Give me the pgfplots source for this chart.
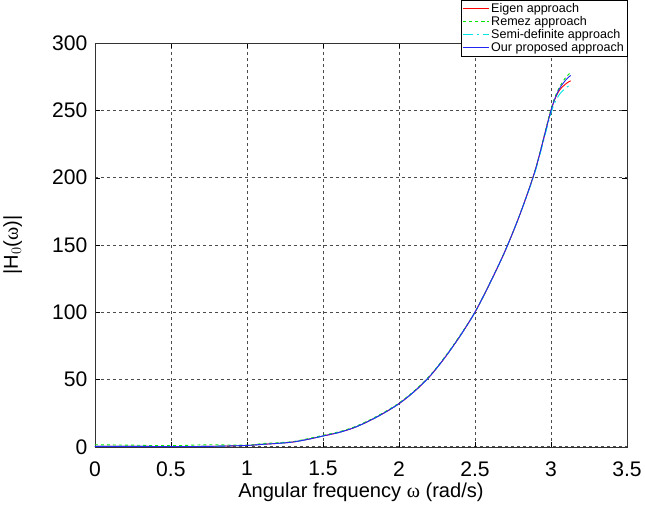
\documentclass[border=0pt]{standalone}
\usepackage{fontspec}
\setmainfont{Liberation Sans}
\newfontfamily\symb{Liberation Serif}
\usepackage{pgfplots}
\pgfplotsset{compat=1.18}
\definecolor{mgreen}{rgb}{0,0.9,0}
\definecolor{mcyan}{rgb}{0,0.9,0.9}
\definecolor{mblue}{rgb}{0.15,0.15,0.95}

\pgfplotstableread{
x     eig   rem   sdp   our
0.00  0.3   1.5   0.3   0.3
0.25  0.3   1.2   0.3   0.3
0.50  0.2   0.8   0.2   0.2
0.75  0.3   1.5   0.3   0.3
1.00  1.0   1.2   1.0   1.0
1.10  1.8   2.4   1.8   1.8
1.20  2.5   3.0   2.5   2.5
1.30  3.5   3.8   3.5   3.5
1.40  5.5   6.0   5.5   5.5
1.50  8.0   8.5   8.0   8.0
1.60  10.5  11.0  10.5  10.5
1.70  14.0  14.5  14.0  14.0
1.80  19.0  19.5  19.0  19.0
1.90  25.0  25.5  25.0  25.0
2.00  32.0  32.5  32.0  32.0
2.10  41.0  41.5  41.0  41.0
2.20  52.0  52.5  52.0  52.0
2.30  66.0  66.5  66.0  66.0
2.40  82.0  82.5  82.0  82.0
2.50  100   100   100   100
2.60  122   122   122   122
2.70  146   146   146   146
2.80  174   174   174   174
2.90  207   207   206   207
3.00  250   251   248   250
3.05  264   266   261   265
3.10  270   275   267   273
3.13  272   278   269   276
}\data

\begin{document}
\begin{tikzpicture}
\begin{axis}[
  scale only axis, width=530pt, height=402pt,
  xmin=0, xmax=3.5, ymin=0, ymax=300,
  xtick={0,0.5,...,3.5}, ytick={0,50,...,300},
  xticklabels={0,0.5,1,1.5,2,2.5,3,3.5},
  tick align=inside, tick style={black, thin},
  major tick length=5pt,
  axis line style={black!80, thin},
  grid=major, grid style={black!70, dashed, line width=0.6pt},
  tick label style={font=\fontsize{21}{23}\selectfont},
  xticklabel style={yshift=-11pt},
  yticklabel style={xshift=-4pt},
  /pgf/number format/assume math mode=true,
  xlabel={Angular frequency {\symb ω} (rad/s)},
  ylabel={|H$_0$({\symb ω})|},
  label style={font=\fontsize{20}{22}\selectfont},
  ylabel style={yshift=23pt},
  legend cell align=left,
  legend style={at={(1,1)}, anchor=north east, yshift=43pt,
    font=\fontsize{12.5}{13.5}\selectfont, draw=black, fill=white,
    inner sep=1pt, row sep=-1.5pt},
  legend image code/.code={\draw[#1]
    plot coordinates {(0cm,0cm) (0.45cm,0cm) (0.9cm,0cm)};},
]
\addplot[red, line width=0.9pt, smooth] table[x=x, y=eig] {\data};
\addlegendentry{Eigen approach}
\addplot[mgreen, dashed, line width=0.9pt, smooth] table[x=x, y=rem] {\data};
\addlegendentry{Remez approach}
\addplot[mcyan, dash pattern=on 10pt off 4pt on 2pt off 4pt, line width=0.9pt, smooth] table[x=x, y=sdp] {\data};
\addlegendentry{Semi-definite approach}
\addplot[mblue, line width=0.9pt, smooth] table[x=x, y=our] {\data};
\addlegendentry{Our proposed approach}
\end{axis}
\end{tikzpicture}
\end{document}
